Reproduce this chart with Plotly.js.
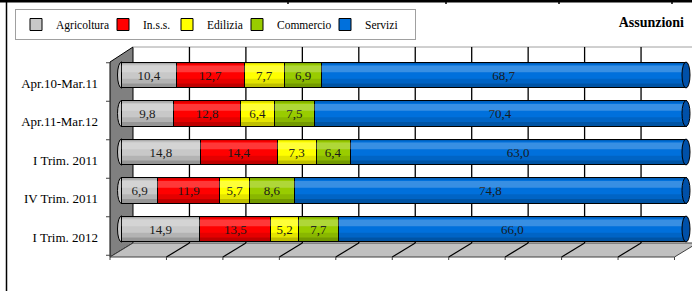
<!DOCTYPE html>
<html>
<head>
<meta charset="utf-8">
<script src="https://cdn.plot.ly/plotly-3.0.1.min.js"></script>
<style>
  html, body { margin: 0; padding: 0; background: #ffffff; }
  #chart { width: 692px; height: 291px; }
</style>
</head>
<body>
<div id="chart"></div>
<script>
// ---- data ----
const categories = ['Apr.10-Mar.11', 'Apr.11-Mar.12', 'I Trim. 2011', 'IV Trim. 2011', 'I Trim. 2012'];
const seriesNames = ['Agricoltura', 'In.s.s.', 'Edilizia', 'Commercio', 'Servizi'];
const agricoltura = [10.4, 9.8, 14.8, 6.9, 14.9];
const inss = [12.7, 12.8, 14.4, 11.9, 13.5];
const edilizia = [7.7, 6.4, 7.3, 5.7, 5.2];
const commercio = [6.9, 7.5, 6.4, 8.6, 7.7];
const servizi = [68.7, 70.4, 63.0, 74.8, 66.0];
const xTickValues = [0, 10, 20, 30, 40, 50, 60, 70, 80, 90, 100];

// ---- styling / geometry ----
const FONT = 'Liberation Serif, Times New Roman, DejaVu Serif, serif';
const colors = ['#c8c8c8', '#ff0000', '#ffff00', '#99cc00', '#0070dc'];
const legendWidths = [42, 19, 25, 43, 45];
const W = 692, H = 291;
const L = 110, R = 692, T = 47, B = 257;       // plot area in pixels
const MID0 = 121.5, MID100 = 686;              // mid-depth plane: 0% and 100%
const SCALE = (MID100 - MID0) / 100;
const DX = 11.5;                               // half depth (x)
const ROW0 = 75, ROWSTEP = 38.5;               // mid-plane row centres
const xRange = [(L - MID0) / SCALE, (R - MID0) / SCALE];
const yRange = [(B - ROW0) / ROWSTEP, (T - ROW0) / ROWSTEP];
const HALF = 0.3375;

const pxX = v => MID0 + SCALE * v;
const toPX = px => (px - L) / (R - L);
const toPY = py => (B - py) / (B - T);
const P = (x, y) => toPX(x).toFixed(5) + ',' + toPY(y).toFixed(5);
const fmt = v => v.toFixed(1).replace('.', ',');

const allSeries = [agricoltura, inss, edilizia, commercio, servizi];
const traces = allSeries.map((vals, k) => ({
  type: 'bar',
  orientation: 'h',
  name: seriesNames[k],
  legendwidth: legendWidths[k],
  y: categories,
  x: vals,
  text: vals.map(fmt),
  textposition: 'inside',
  insidetextanchor: 'middle',
  textangle: 0,
  constraintext: 'none',
  textfont: { family: FONT, size: 13, color: '#1a1a1a' },
  marker: { color: colors[k], line: { color: '#000000', width: 1 } },
  hoverinfo: 'skip'
}));

const shapes = [];
// left wall
shapes.push({ type: 'path', xref: 'paper', yref: 'paper', layer: 'below',
  path: 'M' + P(110, 62) + ' L' + P(133, 47) + ' L' + P(133, 243) + ' L' + P(110, 257) + ' Z',
  fillcolor: '#808080', line: { color: '#000000', width: 1 } });
// floor
shapes.push({ type: 'path', xref: 'paper', yref: 'paper', layer: 'below',
  path: 'M' + P(110, 257) + ' L' + P(133, 243) + ' L' + P(pxX(100) + DX, 243) + ' L' + P(pxX(100) - DX, 257) + ' Z',
  fillcolor: '#c0c0c0', line: { color: '#404040', width: 1 } });
// back wall top edge
shapes.push({ type: 'line', xref: 'paper', yref: 'paper', layer: 'below',
  x0: toPX(133), x1: toPX(pxX(100) + DX), y0: toPY(47), y1: toPY(47),
  line: { color: '#a0a0a0', width: 1 } });
// back wall gridlines + floor gridlines + front ticks
xTickValues.forEach(v => {
  if (v > 0 && v < 100) {
    shapes.push({ type: 'line', xref: 'paper', yref: 'paper', layer: 'below',
      x0: toPX(pxX(v) + DX), x1: toPX(pxX(v) + DX), y0: toPY(47), y1: toPY(243),
      line: { color: '#000000', width: 1.3 } });
    shapes.push({ type: 'line', xref: 'paper', yref: 'paper', layer: 'below',
      x0: toPX(pxX(v) - DX), x1: toPX(pxX(v) + DX), y0: toPY(257), y1: toPY(243),
      line: { color: '#000000', width: 1.2 } });
  }
  shapes.push({ type: 'line', xref: 'paper', yref: 'paper', layer: 'below',
    x0: toPX(pxX(v) - DX), x1: toPX(pxX(v) - DX), y0: toPY(257), y1: toPY(260),
    line: { color: '#404040', width: 1 } });
});
// left axis ticks at front-plane category boundaries
for (let i = 0; i <= categories.length; i++) {
  const y = ROW0 + 7 + ROWSTEP * (i - 0.5);
  shapes.push({ type: 'line', xref: 'paper', yref: 'paper', layer: 'below',
    x0: toPX(106), x1: toPX(110), y0: toPY(y), y1: toPY(y),
    line: { color: '#404040', width: 1 } });
}
// cylinder caps and shading
categories.forEach((c, i) => {
  shapes.push({ type: 'circle', xref: 'x', yref: 'y', xsizemode: 'pixel', xanchor: 0,
    x0: -4, x1: 4, y0: i - HALF, y1: i + HALF, layer: 'below',
    fillcolor: colors[0], line: { color: '#000000', width: 1 } });
  const bands = [
    [-HALF, -0.28, 'rgba(0,0,0,0.15)'],
    [-0.25, -0.07, 'rgba(255,255,255,0.22)'],
    [0.10, 0.22, 'rgba(0,0,0,0.10)'],
    [0.22, HALF, 'rgba(0,0,0,0.25)']
  ];
  bands.forEach(b => shapes.push({ type: 'rect', xref: 'x', yref: 'y', layer: 'above',
    x0: 0, x1: 100, y0: i + b[0], y1: i + b[1], fillcolor: b[2], line: { width: 0 } }));
  shapes.push({ type: 'circle', xref: 'x', yref: 'y', xsizemode: 'pixel', xanchor: 100,
    x0: -4, x1: 4, y0: i - HALF, y1: i + HALF, layer: 'above',
    fillcolor: '#0050a8', line: { color: '#000000', width: 1 } });
});
// page frame: top thick rule with cell ticks, left rule
shapes.push({ type: 'line', xref: 'paper', yref: 'paper', layer: 'above',
  x0: toPX(0), x1: toPX(W), y0: toPY(1.3), y1: toPY(1.3), line: { color: '#000000', width: 2.6 } });
[288, 446, 559, 672].forEach(x => shapes.push({ type: 'line', xref: 'paper', yref: 'paper', layer: 'above',
  x0: toPX(x), x1: toPX(x), y0: toPY(0), y1: toPY(4), line: { color: '#000000', width: 1.5 } }));
shapes.push({ type: 'line', xref: 'paper', yref: 'paper', layer: 'above',
  x0: toPX(6.5), x1: toPX(6.5), y0: toPY(0), y1: toPY(H), line: { color: '#000000', width: 1.5 } });

const layout = {
  width: W, height: H,
  margin: { l: L, r: W - R, t: T, b: H - B, pad: 0 },
  paper_bgcolor: '#ffffff', plot_bgcolor: 'rgba(0,0,0,0)',
  barmode: 'stack', barnorm: 'percent', bargap: 1 - 2 * HALF,
  font: { family: FONT, size: 13, color: '#000000' },
  title: { text: '<b>Assunzioni</b>', font: { family: FONT, size: 14, color: '#000000' },
    xref: 'container', yref: 'container', x: 684 / W, xanchor: 'right', y: 1 - 22 / H, yanchor: 'middle' },
  showlegend: true,
  legend: { orientation: 'h', xref: 'container', yref: 'container', x: 15 / W, y: 1 - 9 / H,
    xanchor: 'left', yanchor: 'top', bordercolor: '#a0a0a0', borderwidth: 1, bgcolor: '#ffffff',
    font: { family: FONT, size: 11.5, color: '#000000' }, traceorder: 'normal', itemwidth: 30 },
  xaxis: { range: xRange, showgrid: false, zeroline: false, showticklabels: false, showline: false,
    ticks: '', tickvals: xTickValues, fixedrange: true },
  yaxis: { range: yRange, type: 'category', showgrid: false, zeroline: false, showline: false, ticks: '',
    tickfont: { family: FONT, size: 13, color: '#000000' }, ticklabelstandoff: 11, ticklabelshift: -8,
    fixedrange: true },
  shapes: shapes
};

Plotly.newPlot('chart', traces, layout, { displayModeBar: false, staticPlot: true });
</script>
</body>
</html>
